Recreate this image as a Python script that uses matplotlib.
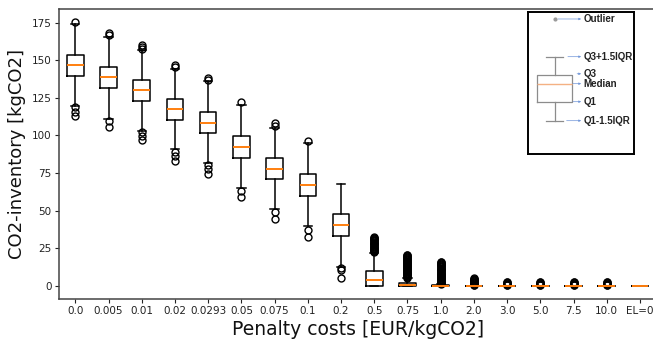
import matplotlib.pyplot as plt

# penalty cost categories (x axis)
categories = ["0.0", "0.005", "0.01", "0.02", "0.0293", "0.05", "0.075", "0.1", "0.2",
              "0.5", "0.75", "1.0", "2.0", "3.0", "5.0", "7.5", "10.0", "EL=0"]

# box statistics [kgCO2]
medians = [146.7, 138.9, 130.0, 117.3, 108.5, 92.3, 77.8, 66.7, 40.5,
           4.0, 0.3, 0.0, 0.0, 0.0, 0.0, 0.0, 0.0, 0.0]
q1 = [139.6, 131.8, 122.9, 110.3, 101.3, 85.1, 70.9, 59.6, 33.1,
      0.0, 0.0, 0.0, 0.0, 0.0, 0.0, 0.0, 0.0, 0.0]
q3 = [153.6, 145.6, 136.9, 124.5, 115.8, 99.3, 84.7, 74.0, 47.5,
      9.6, 2.0, 0.3, 0.0, 0.0, 0.0, 0.0, 0.0, 0.0]
whisker_lo = [119.8, 111.0, 103.0, 90.7, 81.6, 65.0, 50.7, 39.6, 12.7,
              0.0, 0.0, 0.0, 0.0, 0.0, 0.0, 0.0, 0.0, 0.0]
whisker_hi = [174.0, 165.8, 156.7, 144.2, 136.0, 120.3, 105.1, 95.3, 67.9,
              22.0, 5.0, 0.8, 0.0, 0.0, 0.0, 0.0, 0.0, 0.0]
outliers = [
    [175.3, 119.0, 115.8, 112.7],
    [168.3, 167.0, 109.3, 105.8],
    [160.5, 158.8, 157.4, 102.2, 99.5, 96.7],
    [147.0, 145.5, 89.3, 86.6, 83.3],
    [138.3, 137.0, 80.3, 77.8, 74.5],
    [122.0, 63.3, 58.9],
    [108.3, 106.3, 48.7, 44.3],
    [96.0, 37.1, 32.3],
    [12.0, 10.5, 4.9],
    [22.4, 22.9, 23.3, 23.8, 24.2, 24.7, 25.1, 25.6, 26.0, 26.5, 26.9, 27.4, 27.8,
     28.3, 28.7, 29.2, 29.6, 30.1, 30.5, 31.0, 31.4, 31.9, 32.4],
    [5.4, 5.9, 6.3, 6.8, 7.2, 7.7, 8.1, 8.6, 9.0, 9.5, 9.9, 10.4, 10.8, 11.3, 11.7,
     12.2, 12.6, 13.1, 13.5, 14.0, 14.4, 14.9, 15.3, 15.8, 16.2, 16.7, 17.1, 17.6,
     18.0, 18.5, 18.9, 19.4, 19.8, 20.3, 20.7],
    [1.1, 1.5, 2.0, 2.4, 2.9, 3.3, 3.8, 4.2, 4.7, 5.1, 5.6, 6.0, 6.5, 6.9, 7.4, 7.8,
     8.3, 8.7, 9.2, 9.6, 10.1, 10.5, 11.0, 11.4, 11.9, 12.3, 12.8, 13.2, 13.7, 14.1,
     14.6, 15.0, 15.5, 15.9],
    [0.3, 0.7, 1.1, 1.5, 1.9, 2.3, 2.7, 3.1, 3.5, 3.9, 4.3, 4.7, 5.1],
    [0.2, 0.6, 1.0, 1.4, 1.8, 2.2, 2.6],
    [0.2, 0.6, 1.0, 1.4, 1.8, 2.2, 2.5],
    [0.2, 0.6, 1.0, 1.4, 1.8, 2.2, 2.5],
    [0.2, 0.6, 1.0, 1.4, 1.8, 2.2, 2.4],
    [],
]

# schematic legend box (in legend panel units)
legend_stats = {"med": 71.4, "q1": 89.4, "q3": 62.4, "whislo": 108.4, "whishi": 44.4, "fliers": [6.7]}
legend_labels = ["Outlier", "Q3+1.5IQR", "Q3", "Median", "Q1", "Q1-1.5IQR"]
legend_label_y = [6.7, 44.4, 61.5, 71.4, 89.4, 108.4]
legend_arrow_start = [30.5, 40.3, 49.5, 45.5, 45.5, 39.0]

fig = plt.figure(figsize=(6.53, 3.45), dpi=100)
ax = fig.add_axes([0.0899, 0.1333, 0.9156, 0.842])

stats = []
for i, cat in enumerate(categories):
    stats.append({"label": cat, "med": medians[i], "q1": q1[i], "q3": q3[i],
                  "whislo": whisker_lo[i], "whishi": whisker_hi[i], "fliers": outliers[i]})

line_kw = dict(color="black", linewidth=1.1)
ax.bxp(stats, widths=0.5,
       boxprops=line_kw, whiskerprops=line_kw, capprops=line_kw,
       medianprops=dict(color="#ff7f0e", linewidth=1.4),
       flierprops=dict(marker="o", markersize=5, markerfacecolor="none",
                       markeredgecolor="black", markeredgewidth=1.0))

ax.set_ylim(-8.9, 184.5)
ax.set_yticks([0, 25, 50, 75, 100, 125, 150, 175])
ax.tick_params(labelsize=7.5, length=2.7, width=0.8, colors="#222222", pad=2.5)
for sp in ax.spines.values():
    sp.set_color("#444444")
    sp.set_linewidth(1.1)

ax.set_ylabel("CO2-inventory [kgCO2]", fontsize=13, color="#111111")
ax.set_xlabel("Penalty costs [EUR/kgCO2]", fontsize=13.5, color="#111111", labelpad=3)

# legend panel explaining the boxplot
lax = fig.add_axes([0.808, 0.5528, 0.1623, 0.4116])
lax.set_xlim(0, 106)
lax.set_ylim(142, 0)
lax.set_xticks([])
lax.set_yticks([])
for sp in lax.spines.values():
    sp.set_color("black")
    sp.set_linewidth(1.4)

gray = dict(color="#8c8c8c", linewidth=0.9)
lax.bxp([legend_stats], positions=[27.1], widths=35, manage_ticks=False,
        boxprops=gray, whiskerprops=gray, capprops=gray,
        medianprops=dict(color="#f4b183", linewidth=1.0),
        flierprops=dict(marker="o", markersize=2, markerfacecolor="#9a9a9a",
                        markeredgecolor="#9a9a9a"))

for label, y, x0 in zip(legend_labels, legend_label_y, legend_arrow_start):
    lax.annotate("", xy=(53.5, y), xytext=(x0, y),
                 arrowprops=dict(arrowstyle="-|>", color="#6f95d8", linewidth=0.5,
                                 mutation_scale=3, shrinkA=0, shrinkB=0))
    lax.text(55.6, y, label, fontsize=7, fontweight="bold", family="Liberation Sans",
             color="#222222", va="center", ha="left")

fig.savefig("out.png", dpi=100)
